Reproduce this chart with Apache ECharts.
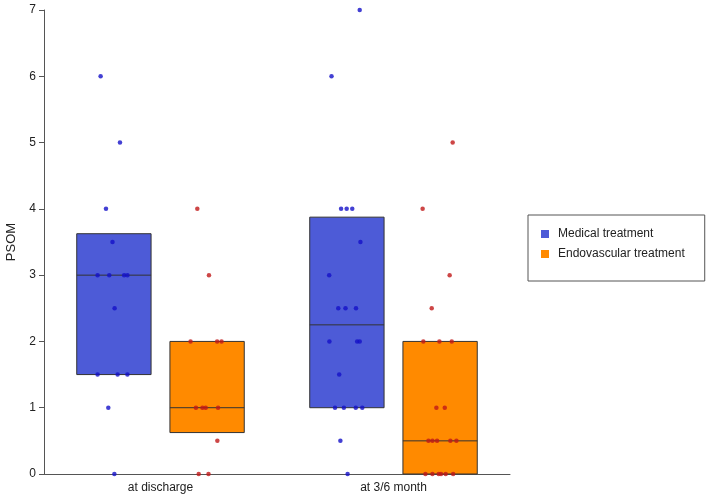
<!DOCTYPE html>
<html>
<head>
<meta charset="utf-8">
<script src="https://cdn.jsdelivr.net/npm/echarts@6/dist/echarts.min.js"></script>
<style>html,body{margin:0;padding:0;background:#fff;}#c{width:709px;height:498px;}</style>
</head>
<body>
<div id="c"></div>
<script>
// ---- data ----
var categories = ['at discharge', 'at 3/6 month'];
var seriesNames = ['Medical treatment', 'Endovascular treatment'];
// box stats per category: [Q1, median, Q3]
var medicalBox = [[1.5, 3, 3.625], [1, 2.25, 3.875]];
var endoBox = [[0.625, 1, 2], [0, 0.5, 2]];
// individual observations
var medicalDischarge = [6, 5, 4, 3.5, 3, 3, 3, 3, 2.5, 1.5, 1.5, 1.5, 1, 0];
var medicalDischargeJitter = [-0.257, -0.174, -0.234, -0.206, -0.270, -0.220, -0.156, -0.142, -0.197, -0.270, -0.184, -0.142, -0.224, -0.198];
var endoDischarge = [4, 3, 2, 2, 2, 1, 1, 1, 1, 0.5, 0, 0];
var endoDischargeJitter = [0.158, 0.208, 0.129, 0.243, 0.262, 0.152, 0.180, 0.194, 0.247, 0.244, 0.164, 0.206];
var medicalMonth = [7, 6, 4, 4, 4, 3.5, 3, 2.5, 2.5, 2.5, 2, 2, 2, 1.5, 1, 1, 1, 1, 0.5, 0];
var medicalMonthJitter = [-0.145, -0.266, -0.225, -0.201, -0.177, -0.142, -0.276, -0.237, -0.206, -0.161, -0.275, -0.156, -0.145, -0.233, -0.251, -0.213, -0.162, -0.134, -0.228, -0.197];
var endoMonth = [5, 4, 3, 2.5, 2, 2, 2, 1, 1, 0.5, 0.5, 0.5, 0.5, 0.5, 0, 0, 0, 0, 0, 0];
var endoMonthJitter = [0.254, 0.125, 0.241, 0.164, 0.128, 0.197, 0.250, 0.184, 0.220, 0.150, 0.167, 0.187, 0.244, 0.270, 0.137, 0.167, 0.194, 0.204, 0.224, 0.256];

// ---- styling ----
var FONT = 'Liberation Sans, Arial, sans-serif';
var BOX_OFFSET = 0.2, BOX_W = 0.319;
var colMedBox = '#4d5bd7', colEndoBox = '#ff8a00';
var colMedDot = '#1410c8', colEndoDot = '#c01818';

function boxData(stats, sign) {
  return stats.map(function (s, i) { return [i + sign * BOX_OFFSET, s[0], s[1], s[2]]; });
}
function pts(vals, jit, catIdx) {
  return vals.map(function (v, i) { return [catIdx + jit[i], v]; });
}
function makeRender(fill) {
  return function (params, api) {
    var x = api.value(0);
    var pLo = api.coord([x, api.value(1)]);
    var pMed = api.coord([x, api.value(2)]);
    var pHi = api.coord([x, api.value(3)]);
    var w = api.size([BOX_W, 0])[0];
    return {
      type: 'group',
      children: [
        { type: 'rect', shape: { x: pLo[0] - w / 2, y: pHi[1], width: w, height: pLo[1] - pHi[1] },
          style: { fill: fill, stroke: '#333', lineWidth: 1 } },
        { type: 'line', shape: { x1: pLo[0] - w / 2, y1: pMed[1], x2: pLo[0] + w / 2, y2: pMed[1] },
          style: { stroke: '#333', lineWidth: 1 } }
      ]
    };
  };
}

var chart = echarts.init(document.getElementById('c'), null, { renderer: 'canvas' });
chart.setOption({
  animation: false,
  textStyle: { fontFamily: FONT },
  grid: { left: 44, right: 199, top: 10, bottom: 24, containLabel: false, outerBoundsMode: 'none' },
  legend: {
    data: seriesNames,
    orient: 'vertical',
    left: 528, top: 215,
    padding: [13, 20, 21, 13],
    itemGap: 8,
    itemWidth: 8, itemHeight: 8,
    icon: 'rect',
    borderColor: '#555', borderWidth: 1,
    textStyle: { fontFamily: FONT, fontSize: 12, color: '#222', padding: [0, 0, 0, 4] }
  },
  xAxis: [
    { type: 'category', data: categories, boundaryGap: true,
      axisLine: { lineStyle: { color: '#555' } },
      axisTick: { alignWithLabel: true, length: 5, lineStyle: { color: '#555' } },
      axisLabel: { fontFamily: FONT, fontSize: 12, color: '#222', margin: 8 } },
    { type: 'value', min: -0.5, max: 1.5, show: false }
  ],
  yAxis: {
    type: 'value', min: 0, max: 7, interval: 1,
    name: 'PSOM', nameLocation: 'middle', nameGap: 26,
    nameTextStyle: { fontFamily: FONT, fontSize: 13, color: '#222' },
    axisLine: { show: true, onZero: false, lineStyle: { color: '#555' } },
    axisTick: { show: true, length: 5, lineStyle: { color: '#555' } },
    axisLabel: { fontFamily: FONT, fontSize: 12, color: '#222', margin: 8 },
    splitLine: { show: false }
  },
  series: [
    { name: seriesNames[0], type: 'custom', xAxisIndex: 1, data: boxData(medicalBox, -1),
      itemStyle: { color: colMedBox }, renderItem: makeRender(colMedBox), z: 2 },
    { name: seriesNames[1], type: 'custom', xAxisIndex: 1, data: boxData(endoBox, 1),
      itemStyle: { color: colEndoBox }, renderItem: makeRender(colEndoBox), z: 2 },
    { name: 'med pts', type: 'scatter', xAxisIndex: 1, symbolSize: 4.5, itemStyle: { color: colMedDot }, z: 5,
      data: pts(medicalDischarge, medicalDischargeJitter, 0).concat(pts(medicalMonth, medicalMonthJitter, 1)) },
    { name: 'endo pts', type: 'scatter', xAxisIndex: 1, symbolSize: 4.5, itemStyle: { color: colEndoDot }, z: 5,
      data: pts(endoDischarge, endoDischargeJitter, 0).concat(pts(endoMonth, endoMonthJitter, 1)) }
  ]
});
</script>
</body>
</html>
